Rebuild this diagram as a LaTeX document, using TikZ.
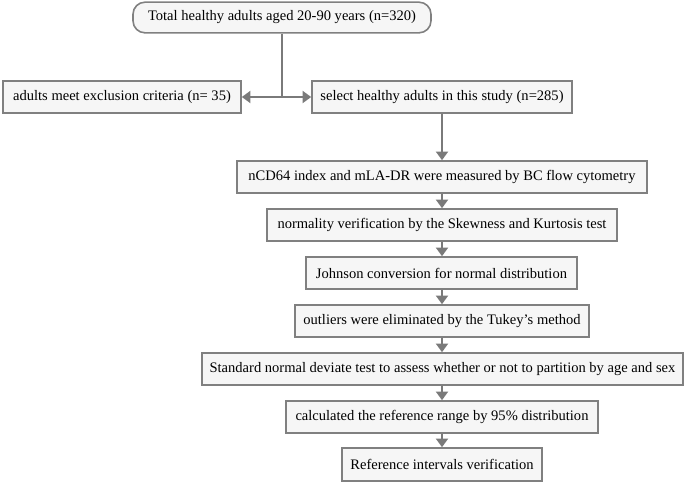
\documentclass[tikz,border=0pt]{standalone}
\usepackage{fontspec}
\setmainfont{Liberation Serif}
\usetikzlibrary{arrows.meta}
\definecolor{edgegray}{HTML}{808080}
\definecolor{boxfill}{HTML}{F6F6F6}
\definecolor{arrgray}{HTML}{7A7A7A}
\tikzset{
  px/.style={x=0.75pt,y=-0.75pt},
  box/.style={draw=edgegray, fill=boxfill, line width=1.2pt, inner sep=0pt,
    minimum height=24pt, font=\fontsize{10.9}{13}\selectfont, anchor=center},
  roundbox/.style={box, rounded corners=9pt},
  conn/.style={draw=arrgray, line width=1.9pt},
  arr/.style={conn, -{Triangle[length=6.5pt,width=9pt]}}
}
\begin{document}
\begin{tikzpicture}[px]
\useasboundingbox (0,0) rectangle (685,483);
\node[roundbox, minimum width=223.5pt, minimum height=23pt] (top) at (282,17.5) {Total healthy adults aged 20-90 years (n=320)};
\node[box, minimum width=178.5pt] (excl) at (122,97) {adults meet exclusion criteria (n= 35)};
\node[box, minimum width=195pt] (sel) at (442,97) {select healthy adults in this study (n=285)};
\node[box, minimum width=307.5pt] (n1) at (442,177) {nCD64 index and mLA-DR were measured by BC flow cytometry};
\node[box, minimum width=262.5pt] (n2) at (442,225) {normality verification by the Skewness and Kurtosis test};
\node[box, minimum width=203pt] (n3) at (441.5,273) {Johnson conversion for normal distribution};
\node[box, minimum width=220.5pt] (n4) at (442,321) {outliers were eliminated by the Tukey's method};
\node[box, minimum width=360.75pt] (n5) at (442.5,369) {Standard normal deviate test to assess whether or not to partition by age and sex};
\node[box, minimum width=234pt] (n6) at (442,417) {calculated the reference range by 95\% distribution};
\node[box, minimum width=150pt, minimum height=24.75pt] (n7) at (442,464.5) {Reference intervals verification};
\coordinate (j) at (top.south |- excl.east);
\draw[conn] (top.south) -- (j);
\draw[arr] (j) -- (excl.east);
\draw[arr] (j) -- (sel.west);
\draw[arr] (sel.south) -- (n1.north);
\draw[arr] (n1.south) -- (n2.north);
\draw[arr] (n2.south) -- (n3.north -| n2.south);
\draw[arr] (n3.south -| n4.north) -- (n4.north);
\draw[arr] (n4.south) -- (n5.north -| n4.south);
\draw[arr] (n5.south -| n6.north) -- (n6.north);
\draw[arr] (n6.south) -- (n7.north);
\end{tikzpicture}
\end{document}
